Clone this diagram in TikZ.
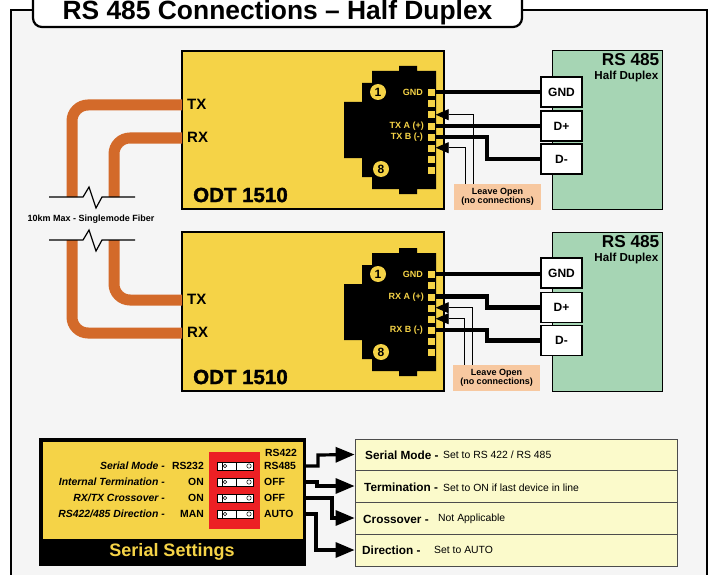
\documentclass[tikz,border=0pt]{standalone}
\usepackage{fontspec}
\setmainfont{Liberation Sans}
\newfontface\heavy[FakeBold=1.5]{Liberation Sans Bold}
\usetikzlibrary{arrows.meta}
\definecolor{ylw}{HTML}{F5D347}
\definecolor{grn}{HTML}{A6D5B4}
\definecolor{org}{HTML}{D36A2A}
\definecolor{bg}{HTML}{F5F5F5}
\definecolor{pch}{HTML}{F7C8A0}
\definecolor{pale}{HTML}{FBFACB}
\definecolor{swr}{HTML}{EC2024}
\newcommand{\fs}[1]{\fontsize{#1}{#1}\selectfont\bfseries}
\newcommand{\fh}[1]{\heavy\fontsize{#1}{#1}\selectfont}
\tikzset{
  panel/.style={draw=black,line width=1.6pt,fill=ylw,inner sep=0pt},
  term/.style={draw=black,line width=1.2pt,fill=white,inner sep=0pt,minimum width=41pt,minimum height=30pt,font=\fs{12}},
  pinbox/.style={draw=black,line width=.4pt,fill=ylw,inner sep=0pt,minimum size=8pt},
  pinlabel/.style={text=ylw,font=\fs{9},anchor=east,inner sep=0pt},
  num/.style={circle,fill=ylw,inner sep=0pt,minimum size=16pt,font=\fs{12}},
  wire/.style={line width=4.6pt,black},
  fiber/.style={line width=11pt,org,rounded corners=16pt},
  breakline/.style={line width=1.2pt,black},
  openarrow/.style={line width=.8pt,black,-{Triangle[length=13pt,width=11pt]}},
  openbox/.style={fill=pch,inner sep=0pt,minimum width=87pt,minimum height=26pt,align=center,font=\fs{9}},
  setlabel/.style={font=\fs{10.4},inner sep=0pt},
  setarrow/.style={line width=3.2pt,black,-{Triangle[length=19pt,width=15pt]}},
  row/.style={draw=black!70,line width=.8pt,fill=pale,inner sep=0pt,minimum width=322pt,minimum height=32pt},
  rowtext/.style={anchor=west,inner sep=0pt,font=\fs{11.8}},
  rowsub/.style={anchor=west,inner sep=0pt,font=\fontsize{10.4}{10.4}\selectfont},
  sw/.style={draw=black,line width=.5pt,fill=white,inner sep=0pt,minimum width=36pt,minimum height=8pt},
}
\newcommand{\jack}[2]{%
  \fill[black] (372,{#2+5}) -- (399,{#2+5}) -- (399,#2) -- (417,#2) -- (417,{#2+5}) -- (436,{#2+5})
    -- (436,{#2+123}) -- (417,{#2+123}) -- (417,{#2+128}) -- (399,{#2+128}) -- (399,{#2+123}) -- (372,{#2+123})
    -- (372,{#2+111}) -- (362,{#2+111}) -- (362,{#2+92}) -- (344,{#2+92}) -- (344,{#2+36}) -- (362,{#2+36})
    -- (362,{#2+17}) -- (372,{#2+17}) -- cycle;
}
\begin{document}
\begin{tikzpicture}[x=1pt,y=-1pt]
\clip (0,0) rectangle (709,575);
\fill[white] (0,0) rectangle (709,575);
\draw[line width=2.4pt,fill=bg] (11,10) rectangle (707,600);

% ---------- panels
\node[panel,minimum width=262pt,minimum height=158pt] (odtA) at (313,130) {};
\node[panel,minimum width=262pt,minimum height=159pt] (odtB) at (313,311.5) {};
\node[draw=black,line width=1pt,fill=grn,inner sep=0pt,minimum width=110pt,minimum height=158pt] (rsA) at (607,130) {};
\node[draw=black,line width=1pt,fill=grn,inner sep=0pt,minimum width=110pt,minimum height=159pt] (rsB) at (607,311.5) {};
\node[anchor=east,inner sep=0pt,font=\fs{17.2}] (rsAt) at (659.5,60) {RS 485};
\node[anchor=east,inner sep=0pt,font=\fs{11.6}] (rsAs) at (658.5,76.5) {Half Duplex};
\node[anchor=east,inner sep=0pt,font=\fs{17.2}] (rsBt) at (659.5,242) {RS 485};
\node[anchor=east,inner sep=0pt,font=\fs{11.6}] (rsBs) at (658.5,258.5) {Half Duplex};
\node[anchor=west,inner sep=0pt,font=\fh{20.5}] (odtAl) at (193,195) {ODT 1510};
\node[anchor=west,inner sep=0pt,font=\fh{20.5}] (odtBl) at (193,377) {ODT 1510};

% ---------- fibers
\coordinate (fA) at (182,105); \coordinate (fB) at (182,138);
\coordinate (fC) at (182,300); \coordinate (fD) at (182,333);
\coordinate (bA) at (72,197); \coordinate (bB) at (114,197);
\coordinate (bC) at (114,240); \coordinate (bD) at (72,240);
\draw[fiber] (fA) -| (bA);
\draw[fiber] (fB) -| (bB);
\draw[fiber] (fC) -| (bC);
\draw[fiber] (fD) -| (bD);
\node[anchor=west,inner sep=0pt,font=\fs{15}] (txA) at (187,104) {TX};
\node[anchor=west,inner sep=0pt,font=\fs{15}] (rxA) at (187,137) {RX};
\node[anchor=west,inner sep=0pt,font=\fs{15}] (txB) at (187,299) {TX};
\node[anchor=west,inner sep=0pt,font=\fs{15}] (rxB) at (187,332) {RX};
\draw[breakline] (49,197) -- (83,197) -- (89,187) -- (96,208) -- (102,197) -- (135,197);
\draw[breakline] (49,240) -- (83,240) -- (89,230) -- (96,251) -- (102,240) -- (135,240);
\node[inner sep=0pt,font=\fs{9}] (fiberlabel) at (91,219) {10km Max - Singlemode Fiber};

% ---------- connector A
\jack{a}{66}
\foreach \n/\y in {1/92,2/103.3,3/114.7,4/126,5/137,6/147.7,7/159,8/170}
  \node[pinbox] (a\n) at (431.5,\y) {};
\node[num] (a1n) at (378,92) {1};
\node[num] (a8n) at (381,169) {8};
\node[pinlabel] (aGl) at (423,92) {GND};
\node[pinlabel] (aAl) at (424,126) {TX A (+)};
\node[pinlabel] (aBl) at (423,137) {TX B (-)};
\node[term] (gndA) at (561.5,92) {GND};
\node[term] (dpA) at (561.5,126) {D+};
\node[term] (dmA) at (561.5,159) {D-};
\draw[wire] (a1.east) -- (gndA.west);
\draw[wire] (a4.east) -- (dpA.west);
\draw[wire] (a5.east) -| (487,159) -- (dmA.west);
\node[openbox] (openA) at (497.5,197) {Leave Open\\(no connections)};
\draw[openarrow] (openA.north -| 473,0) |- (a3.east);
\draw[openarrow] (openA.north -| 465,0) |- (a6.east);

% ---------- connector B
\jack{b}{248}
\foreach \n/\y in {1/274,2/285,3/296.7,4/307.7,5/318.7,6/330,7/341,8/352}
  \node[pinbox] (b\n) at (431.5,\y) {};
\node[num] (b1n) at (378,274) {1};
\node[num] (b8n) at (381,352) {8};
\node[pinlabel] (bGl) at (423,274) {GND};
\node[pinlabel] (bAl) at (424,297) {RX A (+)};
\node[pinlabel] (bBl) at (423,330) {RX B (-)};
\node[term] (gndB) at (561.5,273) {GND};
\node[term] (dpB) at (561.5,307.5) {D+};
\node[term] (dmB) at (561.5,340.5) {D-};
\draw[wire] (b1.east) -- (gndB.west |- b1.east);
\draw[wire] (b3.east) -| (487,307.5) -- (dpB.west);
\draw[wire] (b6.east) -| (487,340.5) -- (dmB.west);
\node[openbox] (openB) at (496.5,378) {Leave Open\\(no connections)};
\draw[openarrow] (openB.north -| 472,0) |- (b4.east);
\draw[openarrow] (openB.north -| 464,0) |- (b5.east);

% ---------- serial settings
\node[draw=black,line width=1.6pt,fill=black,inner sep=0pt,minimum width=265pt,minimum height=126pt] (ser) at (172.5,502) {};
\fill[ylw] (43,442) rectangle (303,539);
\node[text=ylw,inner sep=0pt,font=\fs{18}] (sert) at (172,552) {Serial Settings};
\node[fill=swr,inner sep=0pt,minimum width=51pt,minimum height=77pt] (red) at (234.5,490.5) {};
\foreach \n/\y in {1/466,2/482,3/498,4/514}{
  \node[sw] (s\n) at (235,\y) {};
  \draw[line width=.5pt] (222,\y-4) -- (222,\y+4) (236,\y-4) -- (236,\y+4);
  \draw[line width=.5pt] (225,\y) circle (1.8pt) (249,\y) circle (2.2pt);
}
\foreach \n/\y/\a/\b/\c in {1/466/Serial Mode -/RS232/RS485,2/482/Internal Termination -/ON/OFF,3/497.5/RX\slash TX Crossover -/ON/OFF,4/514/RS422\slash 485 Direction -/MAN/AUTO}{
  \node[setlabel,anchor=east,font=\fs{10.4}\itshape] (la\n) at (165,\y) {\a};
  \node[setlabel,anchor=east] (lb\n) at (204,\y) {\b};
  \node[setlabel,anchor=west] (lc\n) at (264,\y) {\c};
}
\node[setlabel,anchor=west] (lc0) at (265,453) {RS422};

\node[row,minimum height=31pt] (r1) at (516,454.5) {};
\node[row] (r2) at (516,486) {};
\node[row] (r3) at (516,518) {};
\node[row] (r4) at (516,550) {};
\node[rowtext] (r1a) at (365,455) {Serial Mode -};
\node[rowsub] (r1b) at (443,455) {Set to RS 422 / RS 485};
\node[rowtext] (r2a) at (364,487) {Termination -};
\node[rowsub] (r2b) at (443,488) {Set to ON if last device in line};
\node[rowtext] (r3a) at (363,519) {Crossover -};
\node[rowsub] (r3b) at (438,519) {Not Applicable};
\node[rowtext] (r4a) at (362,550) {Direction -};
\node[rowsub] (r4b) at (434,550) {Set to AUTO};

\coordinate (o1) at (305,466); \coordinate (o2) at (305,482);
\coordinate (o3) at (305,498); \coordinate (o4) at (305,514);
\draw[setarrow] (o1) -- (318,466) -- (318,455) -- (r1.west);
\draw[setarrow] (o2) -- (317,482) -- (317,486) -- (r2.west);
\draw[setarrow] (o3) -- (332,498) -- (332,518) -- (r3.west);
\draw[setarrow] (o4) -- (316,514) -- (316,550) -- (r4.west);

% ---------- title
\node[draw=black,line width=2.2pt,fill=white,rounded corners=9pt,inner sep=0pt,minimum width=489pt,minimum height=50pt] (titlebox) at (277.5,2) {};
\node[inner sep=0pt,anchor=base,font=\fs{26.4}] (title) at (277.5,19.2) {RS 485 Connections – Half Duplex};
\end{tikzpicture}
\end{document}
